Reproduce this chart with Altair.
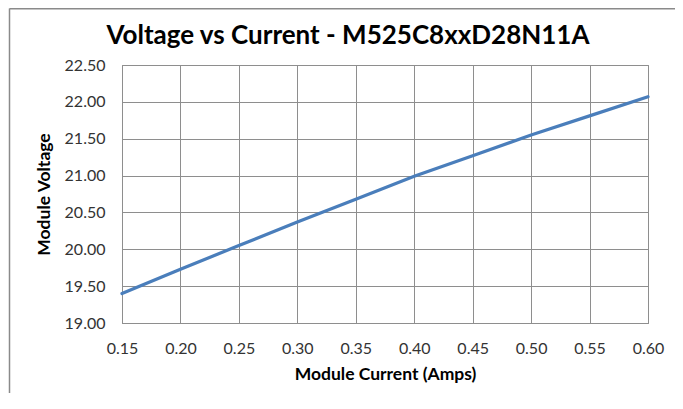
import altair as alt
import pandas as pd

# Data
current = [0.15, 0.20, 0.25, 0.30, 0.35, 0.40, 0.45, 0.50, 0.55, 0.60]
voltage = [19.40, 19.73, 20.05, 20.37, 20.68, 20.99, 21.27, 21.55, 21.81, 22.07]
x_ticks = [0.15, 0.20, 0.25, 0.30, 0.35, 0.40, 0.45, 0.50, 0.55, 0.60]
y_ticks = [19.0, 19.5, 20.0, 20.5, 21.0, 21.5, 22.0, 22.5]

df = pd.DataFrame({"current": current, "voltage": voltage})

FONT = "Lato"
GRID = "#8e8e8e"
FRAME = "#8a8a8a"

line = (
    alt.Chart(df)
    .mark_line(color="#4a7ebb", strokeWidth=3.2, strokeCap="round")
    .encode(
        x=alt.X(
            "current:Q",
            scale=alt.Scale(domain=[0.15, 0.60], nice=False, zero=False),
            axis=alt.Axis(
                values=x_ticks,
                format=".2f",
                title="Module Current (Amps)",
                labelPadding=17,
                titlePadding=9,
            ),
        ),
        y=alt.Y(
            "voltage:Q",
            scale=alt.Scale(domain=[19.0, 22.5], nice=False, zero=False),
            axis=alt.Axis(
                values=y_ticks,
                format=".2f",
                title="Module Voltage",
                labelPadding=17,
                titlePadding=11,
            ),
        ),
    )
)

# chart-area frame (left and top edges, as in the reference)
frame_src = alt.Chart(pd.DataFrame({"edge": ["frame"]}))
frame_left = frame_src.mark_rule(color=FRAME, strokeWidth=1.5).encode(
    x=alt.value(-112.5), y=alt.value(-56.5), y2=alt.value(340)
)
frame_top = frame_src.mark_rule(color=FRAME, strokeWidth=1.5).encode(
    x=alt.value(-112.5), x2=alt.value(560), y=alt.value(-56.3)
)

chart = (
    alt.layer(line, frame_left, frame_top)
    .properties(
        width=526,
        height=258,
        background="white",
        title=alt.TitleParams(
            "Voltage vs Current - M525C8xxD28N11A",
            font=FONT,
            fontSize=26,
            fontWeight="bold",
            color="#000000",
            dx=-37,
            dy=76,
            offset=14,
            baseline="alphabetic",
        ),
        autosize=alt.AutoSizeParams(type="none"),
        padding={"left": 114, "top": 57, "right": 27, "bottom": 70},
    )
    .configure_view(stroke=GRID, strokeWidth=1)
    .configure_axis(
        grid=True,
        gridColor=GRID,
        gridWidth=1,
        gridOpacity=1,
        domainColor=GRID,
        domainWidth=1,
        ticks=False,
        labelFont=FONT,
        labelFontSize=16,
        labelColor="#333333",
        titleFont=FONT,
        titleFontSize=17.5,
        titleFontWeight="bold",
        titleColor="#000000",
        labelFlush=False,
        labelOverlap=False,
    )
)

chart.save("out.html", embed_options={"renderer": "svg", "actions": False})
